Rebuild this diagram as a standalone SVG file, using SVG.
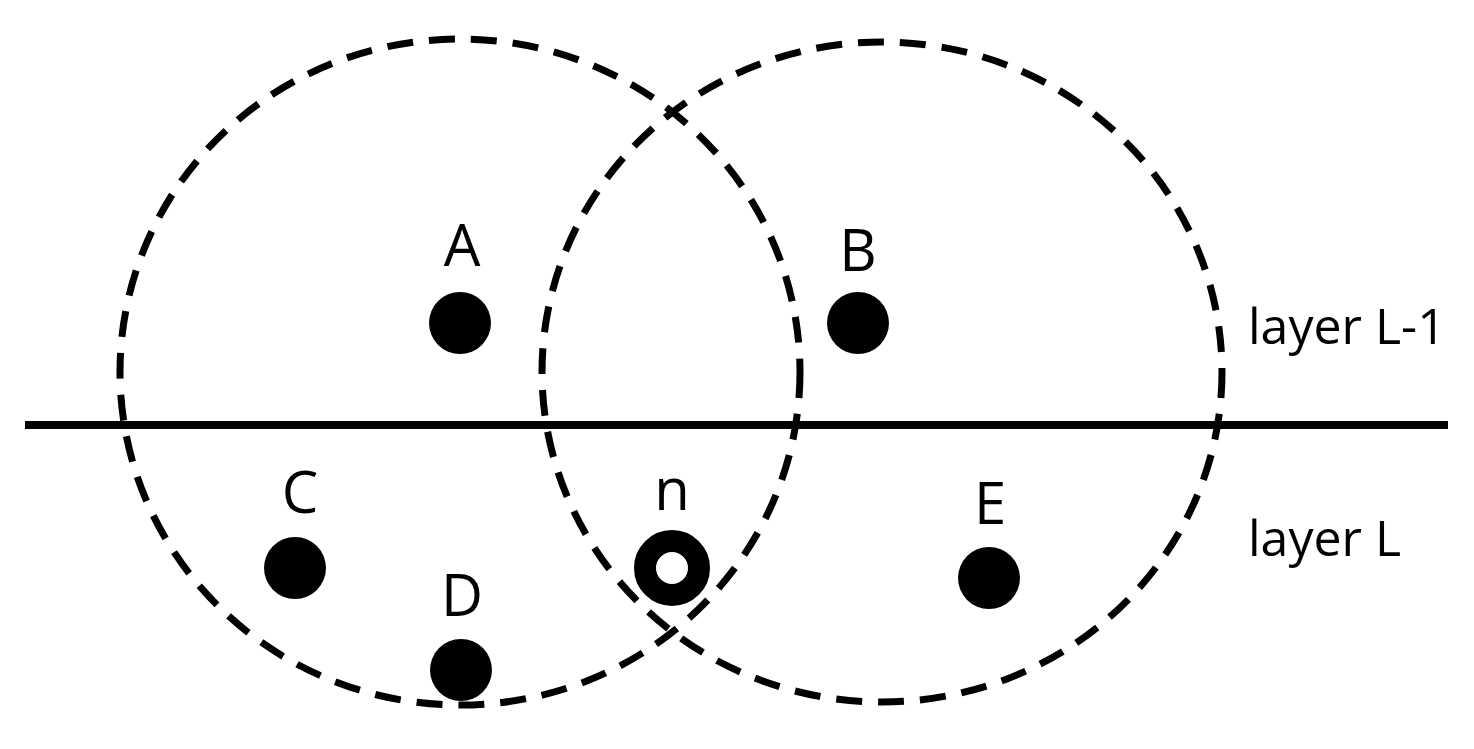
<svg xmlns="http://www.w3.org/2000/svg" width="1474" height="749" viewBox="0 0 1474 749">
<style>
.c{fill:none;stroke:#000;stroke-width:7;stroke-dasharray:26 16}
.d{fill:#000}
.t{font-family:"Open Sans","Liberation Sans",sans-serif;font-size:58px;fill:#000;text-anchor:middle}
.l{font-family:"Open Sans","Liberation Sans",sans-serif;font-size:50px;fill:#000}
</style>
<rect width="1474" height="749" fill="#fff"/>
<g id="connectors">
<ellipse class="c" cx="460" cy="372" rx="340" ry="333"/>
<ellipse class="c" cx="882" cy="372" rx="340" ry="330"/>
<line x1="25" y1="425" x2="1448" y2="425" stroke="#000" stroke-width="8"/>
</g>
<g id="A"><circle class="d" cx="460" cy="323" r="31"/><text class="t" x="462" y="266">A</text></g>
<g id="B"><circle class="d" cx="858" cy="323" r="31"/><text class="t" x="858" y="271">B</text></g>
<g id="C"><circle class="d" cx="295" cy="568" r="31"/><text class="t" x="300" y="513">C</text></g>
<g id="D"><circle class="d" cx="461" cy="670" r="31"/><text class="t" x="462" y="616">D</text></g>
<g id="E"><circle class="d" cx="989" cy="578" r="31"/><text class="t" x="990" y="524">E</text></g>
<g id="n"><circle cx="672" cy="568" r="27" fill="#fff" stroke="#000" stroke-width="22"/><text class="t" x="672" y="510">n</text></g>
<g id="labels"><text class="l" x="1248" y="344">layer L-1</text><text class="l" x="1248" y="556">layer L</text></g>
</svg>
